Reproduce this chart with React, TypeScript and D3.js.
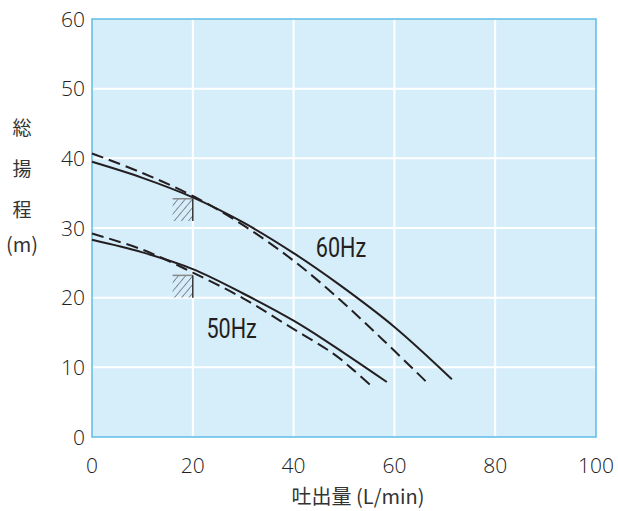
import React, { useRef, useEffect } from 'react';
import * as d3 from 'd3';

// flow (L/min), head (m)
const hz60Solid: [number, number][] = [
    [0, 39.5], [10, 37.2], [20, 34.4], [30, 30.8], [40, 26.4], [49.2, 21.8], [60, 15.8], [71.4, 8.3],
];
const hz60Dashed: [number, number][] = [
    [0, 40.7], [10, 37.9], [20, 34.6], [30, 30.4], [40, 25.3], [49.2, 19.7], [57.8, 13.9], [66.5, 7.8],
];
const hz50Solid: [number, number][] = [
    [0, 28.3], [10, 26.5], [20, 24.1], [30, 20.6], [40, 16.7], [46.6, 13.7], [58.5, 7.9],
];
const hz50Dashed: [number, number][] = [
    [0, 29.2], [10, 26.9], [20, 23.6], [30, 19.9], [39.3, 15.8], [47.8, 12.0], [51.9, 9.6], [55.8, 7.1],
];
// hatched rated-point boxes: [x0, x1, y0, y1]
const boxes: [number, number, number, number][] = [
    [16, 20, 31.0, 34.2],
    [16, 20, 20.0, 23.2],
];
const curveLabels = [
    { text: '60Hz', x: 44.4, y: 25.8 },
    { text: '50Hz', x: 22.7, y: 14.2 },
];
const xTicks = [0, 20, 40, 60, 80, 100];
const yTicks = [0, 10, 20, 30, 40, 50, 60];
const yTitle = ['総', '揚', '程', '(m)'];
const xTitle = '吐出量 (L/min)';

const W = 618;
const H = 511;

const App: React.FC = () => {
    const svgRef = useRef<SVGSVGElement>(null);

    useEffect(() => {
        if (!svgRef.current) return;
        const svg = d3.select(svgRef.current);
        svg.selectAll('*').remove();

        const margin = { top: 19, right: 22, bottom: 74, left: 92 };
        const x = d3.scaleLinear().domain([0, 100]).range([margin.left, W - margin.right]);
        const y = d3.scaleLinear().domain([0, 60]).range([H - margin.bottom, margin.top]);

        const defs = svg.append('defs');
        const pat = defs.append('pattern')
            .attr('id', 'hatch')
            .attr('patternUnits', 'userSpaceOnUse')
            .attr('width', 5.5)
            .attr('height', 5.5)
            .attr('patternTransform', 'rotate(40)');
        pat.append('line')
            .attr('x1', 0).attr('y1', 0).attr('x2', 0).attr('y2', 5.5)
            .attr('stroke', '#2a2a2a').attr('stroke-width', 1);

        // plot background
        svg.append('rect')
            .attr('x', x(0)).attr('y', y(60))
            .attr('width', x(100) - x(0)).attr('height', y(0) - y(60))
            .attr('fill', '#d6edfa');

        // grid
        const grid = svg.append('g');
        xTicks.slice(1, -1).forEach(t => {
            grid.append('line')
                .attr('x1', x(t)).attr('x2', x(t)).attr('y1', y(0)).attr('y2', y(60))
                .attr('stroke', '#fff').attr('stroke-width', 2);
        });
        yTicks.slice(1, -1).forEach(t => {
            grid.append('line')
                .attr('x1', x(0)).attr('x2', x(100)).attr('y1', y(t)).attr('y2', y(t))
                .attr('stroke', '#fff').attr('stroke-width', 2);
        });

        svg.append('rect')
            .attr('x', x(0)).attr('y', y(60))
            .attr('width', x(100) - x(0)).attr('height', y(0) - y(60))
            .attr('fill', 'none')
            .attr('stroke', '#5fbde8')
            .attr('stroke-width', 1.5);

        // hatched boxes
        boxes.forEach(([x0, x1, y0, y1]) => {
            svg.append('rect')
                .attr('x', x(x0)).attr('y', y(y1))
                .attr('width', x(x1) - x(x0)).attr('height', y(y0) - y(y1))
                .attr('fill', 'url(#hatch)');
            svg.append('line')
                .attr('x1', x(x0)).attr('x2', x(x1)).attr('y1', y(y1)).attr('y2', y(y1))
                .attr('stroke', '#888').attr('stroke-width', 1.5);
            svg.append('line')
                .attr('x1', x(x1)).attr('x2', x(x1)).attr('y1', y(y1)).attr('y2', y(y0))
                .attr('stroke', '#333').attr('stroke-width', 1.5);
        });

        const line = d3.line<[number, number]>()
            .x(d => x(d[0]))
            .y(d => y(d[1]))
            .curve(d3.curveCatmullRom.alpha(0.5));

        const drawCurve = (data: [number, number][], dashed: boolean) => {
            svg.append('path')
                .attr('d', line(data))
                .attr('fill', 'none')
                .attr('stroke', '#231f20')
                .attr('stroke-width', 2)
                .attr('stroke-dasharray', dashed ? '12,6' : null);
        };
        drawCurve(hz60Dashed, true);
        drawCurve(hz50Dashed, true);
        drawCurve(hz60Solid, false);
        drawCurve(hz50Solid, false);

        curveLabels.forEach(l => {
            svg.append('text')
                .attr('transform', `translate(${x(l.x)},${y(l.y)}) scale(0.8,1)`)
                .attr('font-family', 'Roboto, "Liberation Sans", sans-serif')
                .attr('font-weight', 400)
                .attr('font-size', 27)
                .attr('fill', '#231f20')
                .text(l.text);
        });

        // tick labels
        const tickFont = '"Open Sans", Roboto, sans-serif';
        yTicks.forEach(t => {
            svg.append('text')
                .attr('x', x(0) - 7).attr('y', y(t))
                .attr('dy', '0.36em')
                .attr('text-anchor', 'end')
                .attr('font-family', tickFont)
                .attr('font-weight', 300)
                .attr('font-size', 21)
                .attr('fill', '#222')
                .text(t);
        });
        xTicks.forEach(t => {
            svg.append('text')
                .attr('x', x(t)).attr('y', y(0) + 36)
                .attr('text-anchor', 'middle')
                .attr('font-family', tickFont)
                .attr('font-weight', 300)
                .attr('font-size', 21)
                .attr('fill', '#222')
                .text(t);
        });

        // axis titles
        const cjk = '"Noto Sans CJK JP", "Noto Sans", sans-serif';
        yTitle.forEach((s, i) => {
            svg.append('text')
                .attr('x', 22).attr('y', 135 + i * 41 - (i === 3 ? 6 : 0))
                .attr('text-anchor', 'middle')
                .attr('font-family', cjk)
                .attr('font-weight', 400)
                .attr('font-size', i === 3 ? 20 : 19)
                .attr('fill', '#333')
                .text(s);
        });
        svg.append('text')
            .attr('x', 358).attr('y', 504)
            .attr('text-anchor', 'middle')
            .attr('font-family', cjk)
            .attr('font-weight', 400)
            .attr('font-size', 20)
            .attr('fill', '#333')
            .text(xTitle);
    }, []);

    return (
        <svg
            ref={svgRef}
            width={W}
            height={H}
            style={{ position: 'absolute', left: 0, top: 0, background: '#fff' }}
        />
    );
};

export default App;
